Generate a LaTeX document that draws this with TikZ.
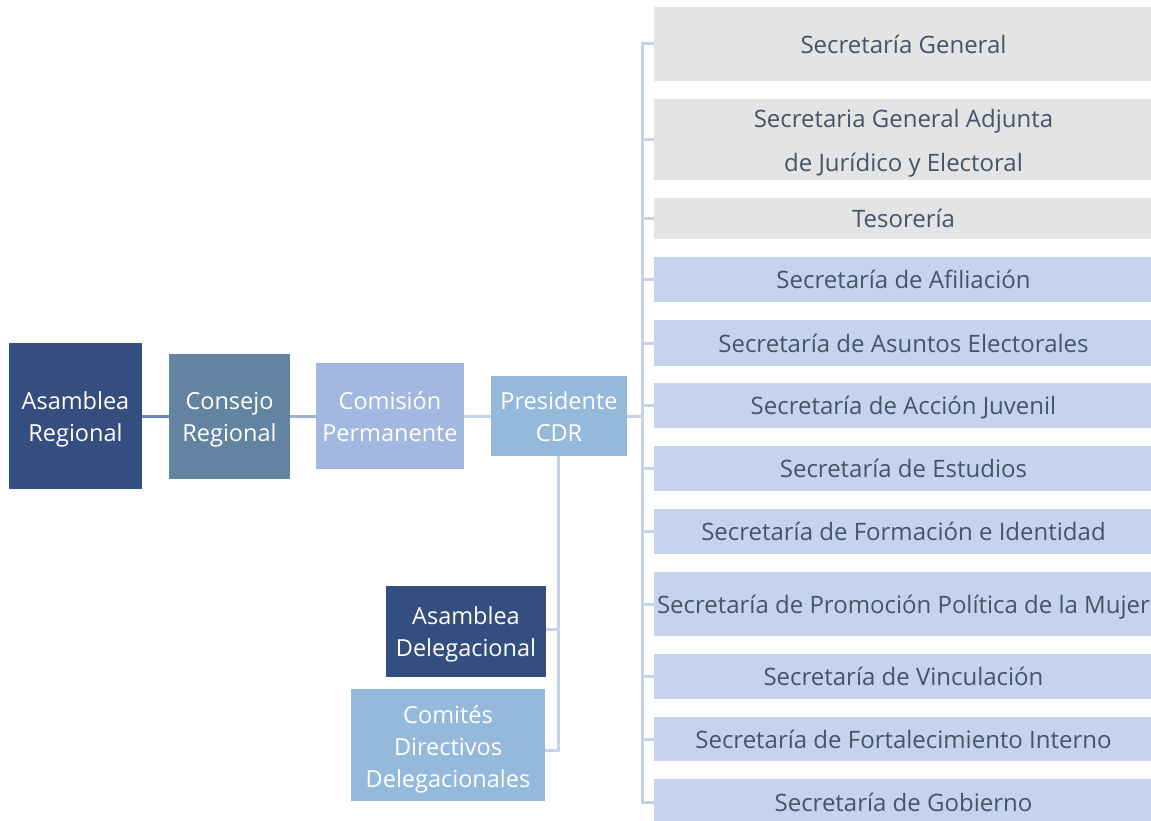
\documentclass[tikz,border=0pt]{standalone}
\usepackage{fontspec}
\setmainfont{Open Sans}
\definecolor{navy}{HTML}{334E7F}
\definecolor{slateb}{HTML}{6284A1}
\definecolor{perib}{HTML}{A2B8E0}
\definecolor{skyb}{HTML}{95B9DB}
\definecolor{grayf}{HTML}{E4E4E4}
\definecolor{lightb}{HTML}{C6D3EC}
\definecolor{txtc}{HTML}{44546A}
\definecolor{lineA}{HTML}{6A84C4}
\definecolor{lineB}{HTML}{9EB1DB}
\definecolor{lineC}{HTML}{C6D1EA}
\tikzset{
  leftbox/.style={rectangle, inner sep=0pt, align=center, text=white,
    font=\fontsize{23.5}{32}\selectfont, text height=53pt, text depth=3pt},
  secbox/.style={rectangle, inner sep=0pt, align=center, text=txtc,
    minimum width=499pt, font=\fontsize{24}{44}\selectfont},
  conn/.style={line width=3pt},
  tree/.style={line width=3pt, color=lineC}
}
\begin{document}
\begin{tikzpicture}[x=1pt,y=-1pt]
\useasboundingbox (0,0) rectangle (1151,821);
% left chain
\node[leftbox, fill=navy, minimum width=133pt, minimum height=146pt] (AR) at (75.5,416) {Asamblea\\Regional};
\node[leftbox, fill=slateb, minimum width=121pt, minimum height=125pt] (CR) at (229.5,416) {Consejo\\Regional};
\node[leftbox, fill=perib, minimum width=148pt, minimum height=106pt] (CP) at (390,416) {Comisión\\Permanente};
\node[leftbox, fill=skyb, minimum width=136pt, minimum height=80pt] (PC) at (559,416) {Presidente\\CDR};
\node[leftbox, fill=navy, minimum width=160pt, minimum height=91pt] (AD) at (466,631.5) {Asamblea\\Delegacional};
\node[leftbox, fill=skyb, minimum width=194pt, minimum height=112pt, text height=88pt] (CD) at (448,745) {Comités\\Directivos\\Delegacionales};
% right column
\node[secbox, fill=grayf, minimum height=74pt] (S1) at (903.5,44) {Secretaría General};
\node[secbox, fill=grayf, minimum height=81pt, text height=67.5pt, text depth=3pt] (S2) at (903.5,139.5) {Secretaria General Adjunta\\de Jurídico y Electoral};
\node[secbox, fill=grayf, minimum height=41pt] (S3) at (903.5,218.5) {Tesorería};
\node[secbox, fill=lightb, minimum height=45pt] (S4) at (903.5,279.5) {Secretaría de Afiliación};
\node[secbox, fill=lightb, minimum height=46pt] (S5) at (903.5,343) {Secretaría de Asuntos Electorales};
\node[secbox, fill=lightb, minimum height=45pt, text depth=0pt] (S6) at (903.5,405.5) {Secretaría de Acción Juvenil};
\node[secbox, fill=lightb, minimum height=45pt] (S7) at (903.5,468.5) {Secretaría de Estudios};
\node[secbox, fill=lightb, minimum height=45pt] (S8) at (903.5,531.5) {Secretaría de Formación e Identidad};
\node[secbox, fill=lightb, minimum height=64pt, text depth=0pt] (S9) at (903.5,604) {Secretaría de Promoción Política de la Mujer};
\node[secbox, fill=lightb, minimum height=45pt] (S10) at (903.5,676.5) {Secretaría de Vinculación};
\node[secbox, fill=lightb, minimum height=44pt] (S11) at (903.5,739) {Secretaría de Fortalecimiento Interno};
\node[secbox, fill=lightb, minimum height=46pt] (S12) at (903.5,802) {Secretaría de Gobierno};
% chain connectors
\draw[conn, lineA] (AR.east) -- (CR.west);
\draw[conn, lineB] (CR.east) -- (CP.west);
\draw[conn, lineC] (CP.east) -- (PC.west);
% bracket
\coordinate (BT) at (642,44);
\coordinate (BB) at (642,802);
\coordinate (BM) at (642,416);
\draw[tree] (S1.west) -- (BT) -- (BB) -- (S12.west);
\foreach \n in {S2,S3,S4,S5,S6,S7,S8,S9,S10,S11}{
  \draw[tree] (\n.west) -- (\n.west -| BT);
}
\draw[tree] (PC.east) -- (BM);
% lower branch
\coordinate (PD) at (558,750);
\draw[tree] (PC.south -| PD) -- (PD) -- (PD -| CD.east);
\draw[tree] ([yshift=2.5pt]AD.east) -- ([yshift=2.5pt]AD.east -| PD);
\end{tikzpicture}
\end{document}
